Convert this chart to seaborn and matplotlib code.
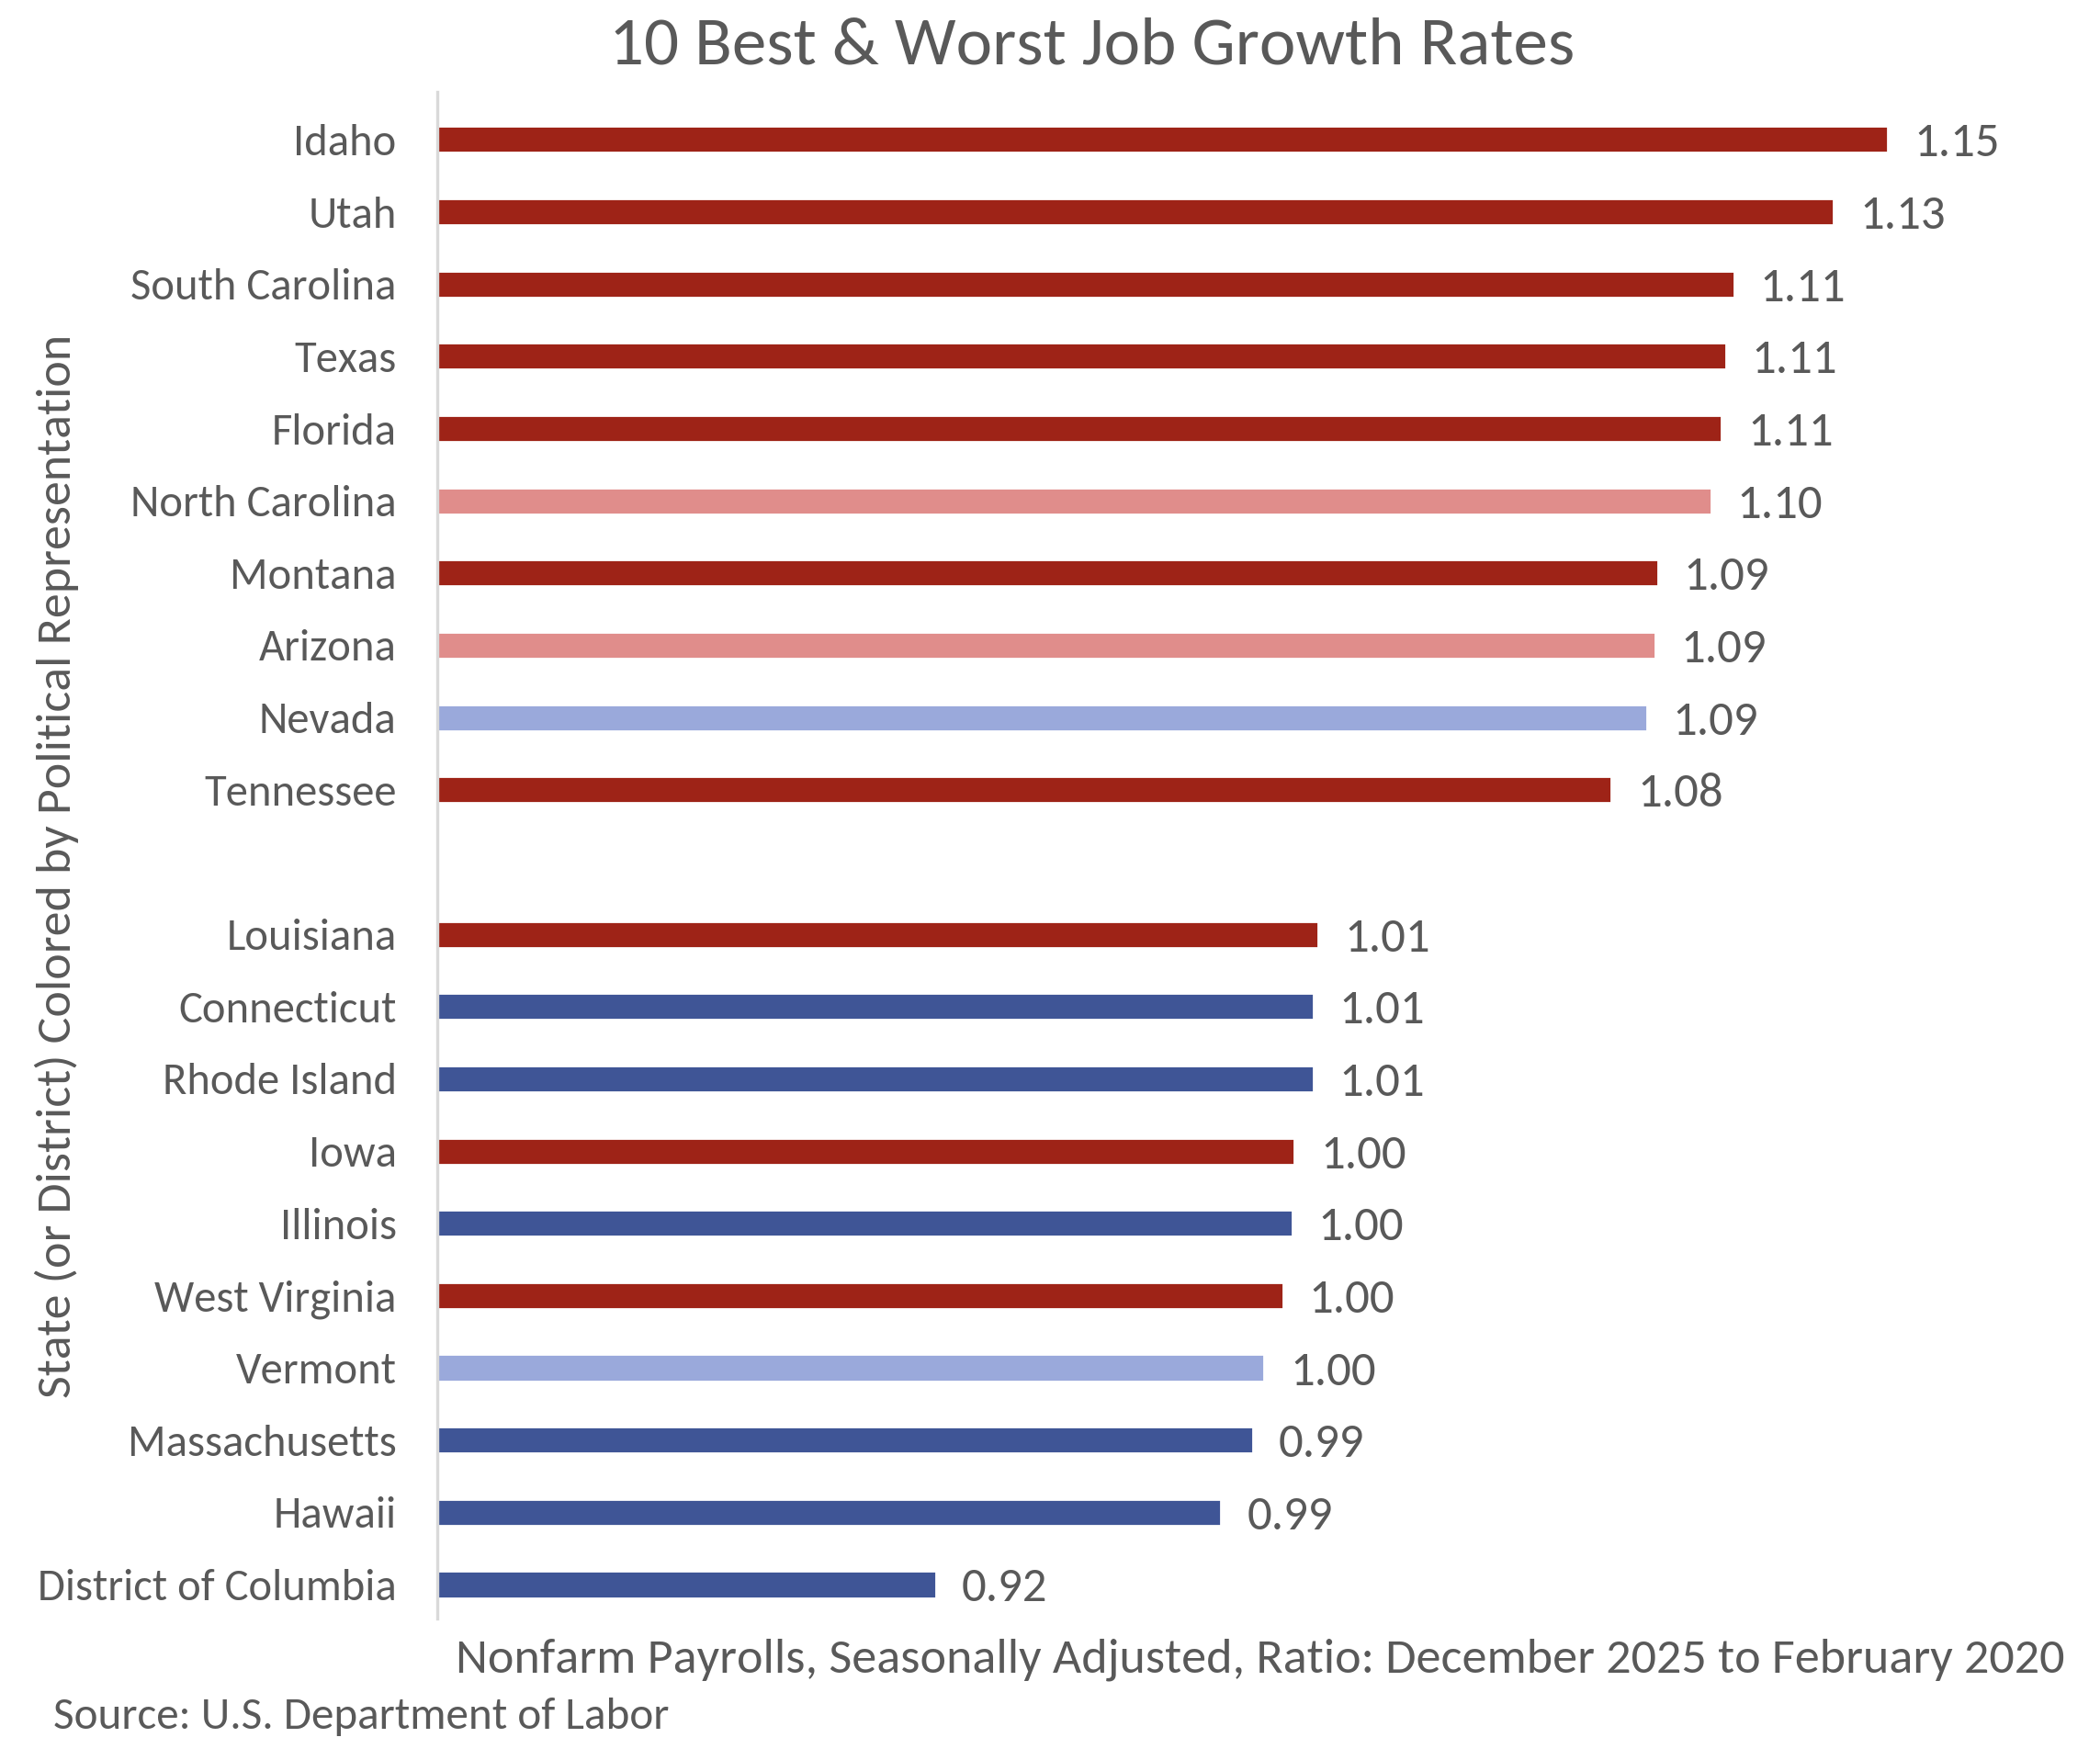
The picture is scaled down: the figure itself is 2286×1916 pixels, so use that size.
import matplotlib
matplotlib.use("Agg")
import matplotlib.pyplot as plt
import seaborn as sns
import pandas as pd

states = ["Idaho", "Utah", "South Carolina", "Texas", "Florida", "North Carolina",
          "Montana", "Arizona", "Nevada", "Tennessee",
          "Louisiana", "Connecticut", "Rhode Island", "Iowa", "Illinois",
          "West Virginia", "Vermont", "Massachusetts", "Hawaii", "District of Columbia"]
ratios = [1.146, 1.133, 1.109, 1.107, 1.106, 1.1035,
          1.0906, 1.090, 1.088, 1.0795,
          1.0090, 1.0078, 1.0078, 1.0033, 1.0027,
          1.0005, 0.9960, 0.9932, 0.9856, 0.9170]
party = ["R", "R", "R", "R", "R", "Split-R",
         "R", "Split-R", "Split-D", "R",
         "R", "D", "D", "R", "D",
         "R", "Split-D", "D", "D", "D"]
order = states[:10] + [" "] + states[10:]

colors = {"R": "#9E2317", "Split-R": "#E08D8B", "Split-D": "#9AA9DB", "D": "#3F5596"}

df = pd.DataFrame({"state": states, "ratio": ratios, "party": party})

sns.set_theme(style="white")
plt.rcParams["font.family"] = ["Carlito", "Lato", "DejaVu Sans"]
txt = "#595959"

fig = plt.figure(figsize=(11.43, 9.58), dpi=200)
ax = fig.add_axes([0.2082, 0.0804, 0.772, 0.8674])

sns.barplot(data=df, x="ratio", y="state", hue="party", palette=colors, order=order,
            dodge=False, width=0.37, legend=False, ax=ax, saturation=1)

ax.set_xlim(0.797, 1.187)
ax.set_ylim(20.47, -0.66)

for c in ax.containers:
    labels = ax.bar_label(c, fmt="%.2f", padding=10, fontsize=19, color=txt)
    for t in labels:
        t.set_va("center_baseline")

ax.set_xticks([])
ax.tick_params(axis="y", length=0, pad=16, labelsize=17.5, labelcolor=txt)
for s in ["top", "right", "bottom"]:
    ax.spines[s].set_visible(False)
ax.spines["left"].set_color("#D9D9D9")
ax.spines["left"].set_linewidth(1.2)
ax.set_ylabel("")
ax.set_xlabel("")

fig.text(0.027, 0.508, "State (or District) Colored by Political Representation",
         rotation=90, ha="center", va="center", fontsize=19.4, color=txt)
fig.text(0.52, 0.974, "10 Best & Worst Job Growth Rates", ha="center", va="center",
         fontsize=27, color=txt)
fig.text(0.600, 0.057, "Nonfarm Payrolls, Seasonally Adjusted, Ratio: December 2025 to February 2020",
         ha="center", va="center", fontsize=19.5, color=txt)
fig.text(0.0255, 0.0245, "Source: U.S. Department of Labor", ha="left", va="center",
         fontsize=17.7, color=txt)

fig.savefig("out.png", dpi=200, facecolor="white")
